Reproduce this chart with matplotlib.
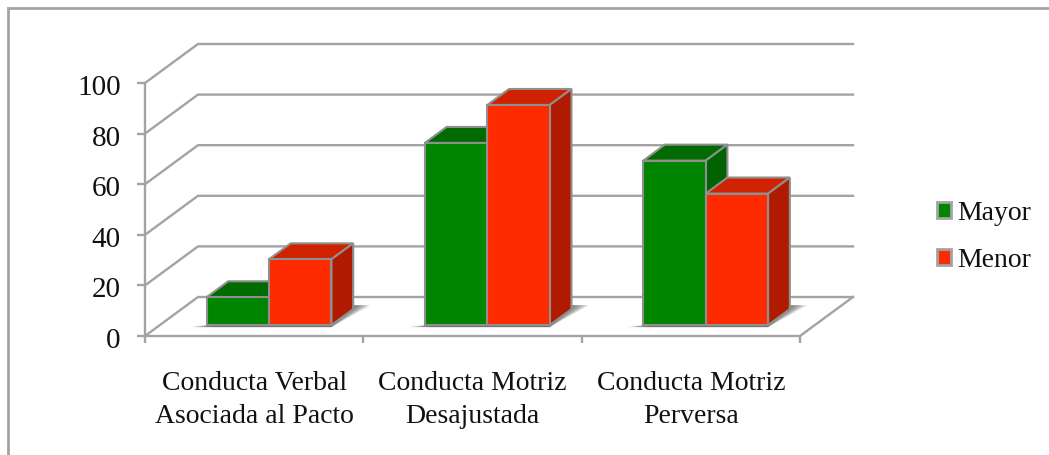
import matplotlib
matplotlib.use("Agg")
import matplotlib.pyplot as plt
from matplotlib.patches import Patch, Polygon, Rectangle
from matplotlib.transforms import ScaledTranslation

categories = ["Conducta Verbal\nAsociada al Pacto", "Conducta Motriz\nDesajustada", "Conducta Motriz\nPerversa"]
mayor = [11, 72, 65]
menor = [26, 87, 52]
y_ticks = [0, 20, 40, 60, 80, 100]

W, H = 1049, 455
GRAY = "#a3a3a3"
EDGE = "#8f8f8f"
# plot box in pixels
X0, X1, Y0, Y1 = 145, 800, 336, 83
# oblique depth offset, in data units
DX = 53 / ((X1 - X0) / 3)
DY = 39 / ((Y0 - Y1) / 100)
BAR_W = 0.286
D_FRONT, D_BACK = 0.28, 0.69


def proj(x, y, d):
    return (x + d * DX, y + d * DY)


fig = plt.figure(figsize=(W / 100, H / 100), dpi=100)
ax = fig.add_axes([X0 / W, 1 - Y0 / H, (X1 - X0) / W, (Y0 - Y1) / H])
ax.set_xlim(0, 3)
ax.set_ylim(0, 100)
ax.patch.set_visible(False)

# chart border, only top and left show in the crop
fig.add_artist(Rectangle((8 / W, 1 - 480 / H), 1100 / W, 472 / H, transform=fig.transFigure,
                         fill=False, edgecolor=GRAY, linewidth=2))

for s in ["top", "right"]:
    ax.spines[s].set_visible(False)
for s in ["left", "bottom"]:
    ax.spines[s].set_color(GRAY)
    ax.spines[s].set_linewidth(1.7)

# walls and floor
for v in y_ticks:
    xs, ys = zip(proj(0, v, 0), proj(0, v, 1), proj(3, v, 1))
    ax.plot(xs, ys, color=GRAY, lw=1.7, clip_on=False, zorder=1, solid_joinstyle="miter")
xs, ys = zip(proj(3, 0, 0), proj(3, 0, 1))
ax.plot(xs, ys, color=GRAY, lw=1.7, clip_on=False, zorder=1)


def draw_bar(x, val, front, side, top, z):
    xl, xr = x, x + BAR_W
    ax.add_patch(Polygon([proj(xl, val, D_FRONT), proj(xr, val, D_FRONT), proj(xr, val, D_BACK), proj(xl, val, D_BACK)],
                         facecolor=top, edgecolor=EDGE, lw=1.5, clip_on=False, zorder=z))
    ax.add_patch(Polygon([proj(xr, 0, D_FRONT), proj(xr, val, D_FRONT), proj(xr, val, D_BACK), proj(xr, 0, D_BACK)],
                         facecolor=side, edgecolor=EDGE, lw=1.5, clip_on=False, zorder=z))
    front_x, front_y = proj(xl, 0, D_FRONT)
    ax.bar(front_x, val, BAR_W, bottom=front_y, align="edge", color=front, edgecolor=EDGE, lw=1.5,
           clip_on=False, zorder=z + 0.1)


# soft shadow on the floor, behind each group
for i in range(3):
    left = i + 0.5 - BAR_W
    right = i + 0.5 + BAR_W
    for k in range(8):
        inset = k * 0.012
        ax.add_patch(Polygon([proj(left - 0.075 + inset, -0.8, D_FRONT), proj(right, -0.8, D_FRONT),
                              proj(right + 0.055 - inset, 0, D_BACK + 0.1), proj(right - 0.06, 0, D_BACK + 0.1)],
                             facecolor="#444444", edgecolor="none", alpha=0.16, clip_on=False, zorder=2))

for i in range(3):
    draw_bar(i + 0.5 - BAR_W, mayor[i], "#008500", "#006200", "#006b00", 3 + 2 * i)
    draw_bar(i + 0.5, menor[i], "#ff2b00", "#b01a00", "#cf2200", 4 + 2 * i)

FONT = "Liberation Serif"
ax.set_yticks(y_ticks)
ax.set_xticks([0, 1, 2, 3])
ax.set_xticklabels([])
ax.set_xticks([0.5, 1.5, 2.5], minor=True)
ax.set_xticklabels(categories, minor=True, family=FONT, fontsize=20, linespacing=1.45, color="#111111")
ax.tick_params(axis="x", which="major", length=5, width=1.7, color=GRAY)
ax.tick_params(axis="x", which="minor", length=0, pad=25)
ax.tick_params(axis="y", length=5.5, width=1.7, color=GRAY, pad=12, labelsize=21, labelcolor="#111111")
# labels sit a little below their ticks in the original
down = ScaledTranslation(0, -2 / 100, fig.dpi_scale_trans)
for t in ax.get_yticklabels():
    t.set_family(FONT)
    t.set_transform(t.get_transform() + down)

handles = [Patch(facecolor="#008500", edgecolor=GRAY, lw=2, label="Mayor"),
           Patch(facecolor="#ff2b00", edgecolor=GRAY, lw=2, label="Menor")]
leg = fig.legend(handles=handles, loc="center left", bbox_to_anchor=(937 / W, 1 - 237 / H), frameon=False,
                 prop={"family": FONT, "size": 20}, handlelength=0.5, handleheight=0.5, handletextpad=0.24,
                 labelspacing=0.78, borderpad=0, borderaxespad=0, labelcolor="#111111")

fig.savefig("out.png", dpi=100)
